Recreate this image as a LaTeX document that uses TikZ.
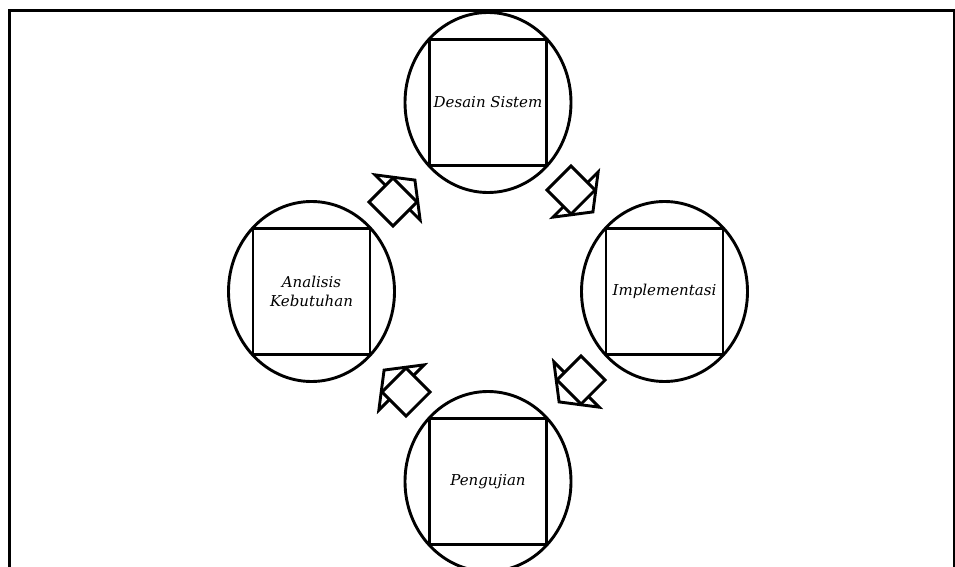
\documentclass[tikz,border=0pt]{standalone}
\usepackage{fontspec}
\setmainfont{DejaVu Serif}
\usetikzlibrary{shapes.geometric}
\tikzset{
  stage/.style={ellipse, draw, line width=2.9pt, minimum width=166pt, minimum height=180pt, inner sep=0pt},
  stagebox/.style={rectangle, draw, line width=2.9pt, minimum width=117pt, minimum height=126pt, inner sep=0pt,
    align=center, font=\fontsize{15}{19.5}\selectfont\itshape},
  flowarrow/.pic={
    \draw[line width=2.9pt, line join=miter] (6.4,-32) -- (31,0) -- (6.4,32) -- cycle;
    \draw[line width=2.9pt, fill=white] (-17,-17) rectangle (17,17);
  },
  frame/.style={line width=3pt}
}
\begin{document}
\begin{tikzpicture}[x=1pt,y=-1pt]
\useasboundingbox (0,0) rectangle (955,567);
\draw[frame] (9.5,600) -- (9.5,11) -- (954,11) -- (954,600);
\node[stage] (ds) at (488,102.5) {};
\node[stagebox] (dsb) at (ds.center) {Desain Sistem};
\node[stage] (ak) at (311.5,291.5) {};
\node[stagebox] (akb) at (ak.center) {Analisis\\Kebutuhan};
\node[stage] (im) at (664.5,291.5) {};
\node[stagebox] (imb) at (im.center) {Implementasi};
\node[stage] (pg) at (488,481.5) {};
\node[stagebox] (pgb) at (pg.center) {Pengujian};
\pic[rotate=45] at (393,202) {flowarrow};
\pic[rotate=-45] at (571,190) {flowarrow};
\pic[rotate=-135] at (581,380) {flowarrow};
\pic[rotate=135] at (406,392) {flowarrow};
\end{tikzpicture}
\end{document}
